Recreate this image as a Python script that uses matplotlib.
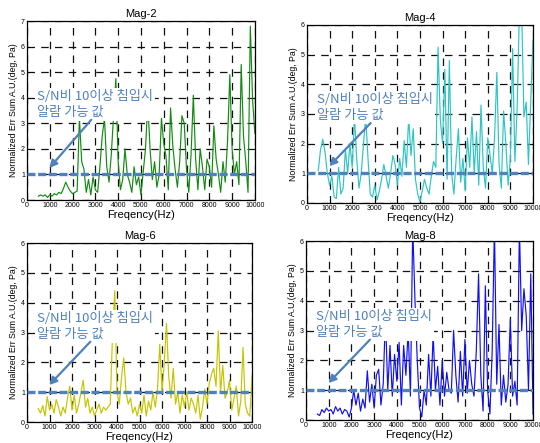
import numpy as np
import matplotlib
matplotlib.use("Agg")
import matplotlib.pyplot as plt

plt.rcParams['font.family'] = ['Liberation Sans', 'DejaVu Sans']

mag2 = [0.15, 0.2, 0.15, 0.2, 0.1, 0.2, 0.15, 0.25, 0.2, 0.3,
        0.25, 0.45, 0.7, 0.5, 0.35, 0.25, 0.3, 0.35, 3.2, 1.5,
        1.2, 0.3, 0.8, 0.2, 0.9, 0.4, 0.3, 1.3, 2.5, 3.2,
        1.3, 0.7, 1.8, 3.3, 4.75, 1.5, 0.4, 0.8, 2.0, 1.0,
        0.7, 0.3, 1.3, 0.6, 0.9, 0.2, 1.1, 2.0, 3.8, 2.0,
        0.8, 1.5, 0.5, 1.0, 3.2, 2.2, 1.7, 0.4, 3.6, 2.1,
        1.2, 0.5, 1.5, 3.3, 3.0, 1.2, 0.3, 1.8, 4.1, 1.6,
        0.4, 2.0, 1.3, 0.4, 1.6, 1.3, 0.5, 2.9, 1.6, 1.0,
        0.3, 1.5, 0.7, 2.3, 4.9, 2.0, 1.0, 1.5, 0.6, 5.3,
        2.5, 1.5, 0.3, 6.8, 3.9, 2.6]

mag4 = [1.1, 1.8, 2.15, 1.7, 1.0, 0.6, 0.9, 0.2, 0.15, 1.2,
        0.3, 0.5, 1.8, 1.0, 2.0, 1.2, 2.9, 1.5, 0.5, 1.0,
        2.0, 2.9, 1.5, 0.3, 0.2, 0.6, 0.1, 0.4, 0.8, 1.3,
        0.9, 0.5, 1.0, 1.6, 1.3, 0.6, 1.5, 0.9, 2.1, 1.2,
        2.9, 1.6, 2.5, 0.8, 0.3, 0.05, 0.4, 0.8, 0.5, 0.3,
        0.9, 1.4, 1.2, 5.25, 2.8, 2.0, 4.5, 0.8, 4.8, 1.0,
        0.3, 1.5, 2.5, 0.7, 1.5, 0.4, 2.2, 1.2, 2.9, 1.0,
        2.4, 0.6, 3.3, 1.2, 0.5, 2.2, 1.6, 1.0, 2.2, 4.4,
        1.3, 0.5, 3.1, 2.0, 0.6, 1.5, 5.2, 1.4, 3.2, 6.5,
        6.5, 2.9, 3.4, 1.3, 3.4, 5.5]

mag6 = [0.45, 0.3, 0.55, 0.2, 0.85, 0.4, 0.6, 0.3, 0.75, 0.5,
        0.2, 0.5, 0.3, 0.8, 1.2, 0.4, 0.9, 0.3, 0.6, 1.0,
        1.4, 0.5, 0.8, 0.3, 0.5, 0.2, 0.4, 0.6, 0.3, 0.5,
        0.4, 0.5, 0.6, 2.9, 4.4, 1.0, 0.6, 1.5, 2.15, 1.0,
        0.6, 0.8, 0.3, 0.5, 0.2, 0.6, 0.3, 0.9, 0.2, 0.7,
        0.4, 1.0, 0.5, 1.1, 2.6, 1.0, 2.0, 3.3, 1.5, 0.8,
        1.8, 0.6, 1.0, 0.3, 0.9, 0.5, 1.0, 0.4, 0.8, 0.6,
        0.3, 0.9, 0.1, 0.5, 1.1, 0.6, 1.3, 1.6, 1.8, 1.2,
        3.05, 1.0, 1.9, 0.8, 1.0, 1.4, 0.4, 0.8, 1.2, 0.2,
        0.7, 2.5, 0.6, 0.3, 0.2, 1.5]

mag8 = [0.2, 0.15, 0.35, 0.25, 0.4, 0.3, 0.35, 0.2, 0.45, 0.3,
        0.4, 0.2, 0.35, 0.3, 0.1, 0.4, 1.0, 0.5, 0.9, 0.3,
        0.7, 0.4, 1.65, 0.6, 1.2, 0.4, 1.5, 1.7, 0.5, 1.2,
        3.5, 1.0, 2.5, 0.8, 2.2, 1.3, 2.6, 0.5, 2.5, 1.5,
        3.0, 0.8, 6.5, 4.0, 2.0, 0.4, 0.1, 1.0, 0.5, 2.2,
        0.8, 2.9, 1.0, 1.8, 0.5, 2.0, 0.8, 1.6, 1.0, 0.9,
        3.0, 1.5, 0.6, 2.3, 0.8, 2.7, 0.9, 2.0, 1.2, 0.8,
        2.3, 4.9, 1.5, 0.3, 4.5, 1.0, 0.2, 2.3, 6.5, 1.2,
        3.2, 0.5, 1.5, 0.6, 1.2, 3.4, 0.8, 1.3, 0.5, 6.5,
        3.0, 4.4, 3.5, 1.0, 4.9, 0.2]

titles = ["Mag-2", "Mag-4", "Mag-6", "Mag-8"]
series = [mag2, mag4, mag6, mag8]
colors = ["#138a13", "#2ec4c4", "#c4c400", "#1010f0"]
ymax = [7, 6, 6, 6]
threshold = 1.0
note = "S/N비 10이상 침입시\n알람 가능 값"

# axes boxes in figure fraction (left, bottom, width, height)
boxes = [(0.050, 0.5485, 0.422, 0.404),
         (0.5685, 0.5418, 0.4185, 0.402),
         (0.050, 0.0474, 0.4167, 0.404),
         (0.5667, 0.0519, 0.4204, 0.404)]
title_pad = [3, 3, 3, 1]

fig = plt.figure(figsize=(5.4, 4.43), dpi=100)
blue = "#4f81bd"

for i in range(4):
    ax = fig.add_axes(boxes[i])
    y = np.array(series[i])
    f = np.linspace(500, 10000, len(y))
    ax.plot(f, y, color=colors[i], lw=0.85, zorder=2)
    ax.plot([0, 10000], [threshold, threshold], color=blue, lw=2.4,
            linestyle=(0, (2.4, 0.8)), zorder=3)
    ax.set_xlim(0, 10000)
    ax.set_ylim(0, ymax[i])
    ax.set_xticks(np.arange(0, 10001, 1000))
    ax.set_yticks(np.arange(0, ymax[i] + 1, 1))
    ax.grid(True, color="#111111", lw=0.9, linestyle=(0, (6, 5)), zorder=1)
    ax.set_axisbelow(True)
    ax.tick_params(labelsize=5, direction="in", length=2, width=0.6, pad=1.5)
    for s in ax.spines.values():
        s.set_linewidth(0.9)
    ax.set_title(titles[i], fontsize=8, pad=title_pad[i])
    ax.set_xlabel("Freqency(Hz)", fontsize=8, labelpad=1)
    ax.set_ylabel("Normalized Err Sum A.U.(deg, Pa)", fontsize=6.3, labelpad=2)

    ax.text(0.045, 0.535, note, transform=ax.transAxes, fontsize=9.5,
            color=blue, family=["Noto Sans CJK KR", "DejaVu Sans"],
            va="center", ha="left", linespacing=1.3, zorder=4,
            bbox=dict(facecolor="white", edgecolor="none", pad=1.5))
    ax.annotate("", xy=(0.09, 1.17 / ymax[i]), xytext=(0.29, 0.46),
                xycoords="axes fraction", textcoords="axes fraction",
                arrowprops=dict(arrowstyle="-|>", color=blue, lw=1.6,
                                mutation_scale=11),
                zorder=5)

fig.savefig("out.png", dpi=100)
